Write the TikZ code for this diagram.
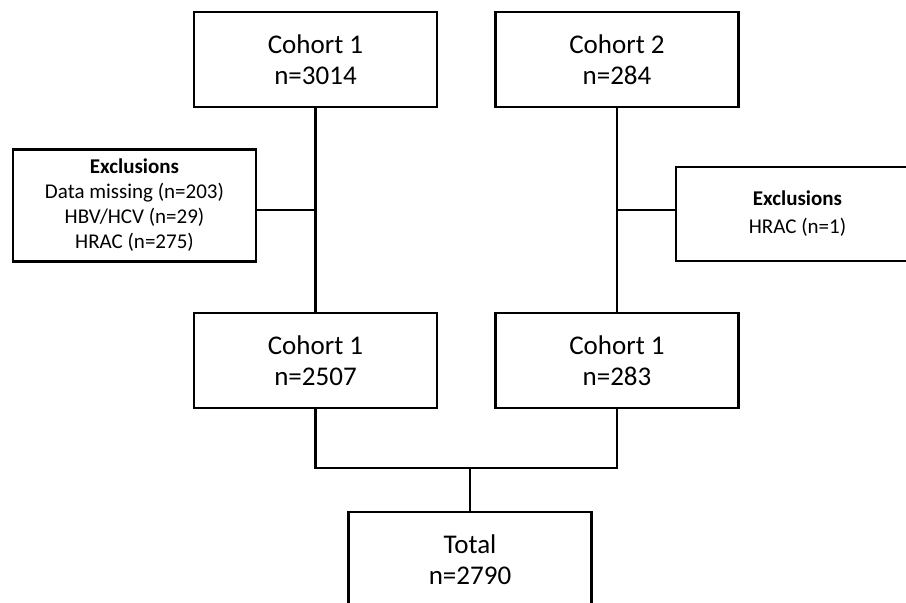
\documentclass[tikz,border=0pt]{standalone}
\usepackage{fontspec}
\setmainfont{Carlito}
\begin{document}
\begin{tikzpicture}[x=1pt,y=-1pt,
  bigbox/.style={draw=black,line width=2.6pt,minimum width=243pt,minimum height=95pt,align=center,inner sep=0pt,font=\fontsize{27}{31}\selectfont},
  exbox/.style={draw=black,line width=2.6pt,minimum width=243pt,align=center,inner sep=0pt,font=\fontsize{21}{25}\selectfont},
  conn/.style={line width=2.6pt}]
\clip (0,0) rectangle (906,603);
\fill[white] (0,0) rectangle (906,603);
\node[bigbox] (c1) at (315.5,59.5) {Cohort 1\\n=3014};
\node[bigbox] (c2) at (617,59.5) {Cohort 2\\n=284};
\node[exbox,minimum height=112pt] (exl) at (134.5,205.5) {\textbf{Exclusions}\\Data missing (n=203)\\HBV/HCV (n=29)\\HRAC (n=275)};
\node[exbox,minimum height=94pt,font=\fontsize{21}{28}\selectfont] (exr) at (797.5,214) {\textbf{Exclusions}\\HRAC (n=1)};
\node[bigbox] (m1) at (315.5,360.5) {Cohort 1\\n=2507};
\node[bigbox] (m2) at (617,360.5) {Cohort 1\\n=283};
\node[bigbox] (tot) at (470,559.5) {Total\\n=2790};
\coordinate (jl) at (315.5,210);
\coordinate (jr) at (617,210);
\coordinate (bar) at (470,468);
\draw[conn] (c1.south) -- (m1.north);
\draw[conn] (c2.south) -- (m2.north);
\draw[conn] (exl.east |- jl) -- (jl);
\draw[conn] (exr.west |- jr) -- (jr);
\draw[conn] (m1.south) |- (bar) -| (m2.south);
\draw[conn] (bar) -- (tot.north);
\end{tikzpicture}
\end{document}
